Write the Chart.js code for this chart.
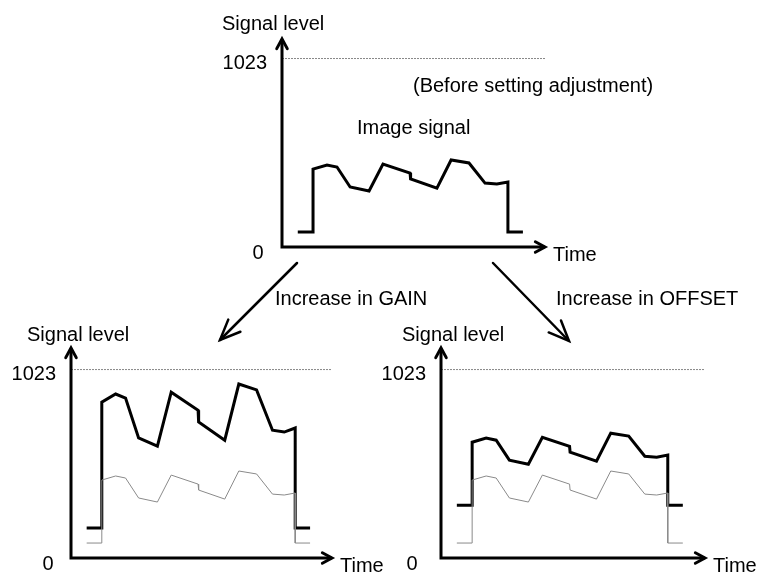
<!DOCTYPE html>
<html>
<head>
<meta charset="utf-8">
<script src="https://cdn.jsdelivr.net/npm/chart.js@4"></script>
<style>
  body { margin: 0; background: #fff; }
  #wrap { position: relative; width: 763px; height: 573px; }
  #wrap canvas { position: absolute; left: 0; top: 0; }
</style>
</head>
<body>
<div id="wrap">
  <canvas id="top" width="763" height="573"></canvas>
  <canvas id="gain" width="763" height="573"></canvas>
  <canvas id="offset" width="763" height="573"></canvas>
</div>
<script>
// time positions along the axis (0..100) and signal levels (0..1023)
var timePts       = [6, 11.8, 11.8, 17.1, 20.9, 25.9, 33.1, 38.4, 48.7, 48.9, 58.9, 64.3, 71.1, 77.2, 81.7, 85.9, 85.9, 91.6];
var originalLevel = [81, 81, 422, 444, 433, 325, 303, 449, 400, 368, 319, 471, 455, 346, 341, 352, 81, 81];
var gainLevel     = [162, 162, 844, 888, 866, 650, 606, 898, 800, 736, 638, 942, 910, 692, 682, 704, 162, 162];
var offsetLevel   = [286, 286, 627, 649, 638, 530, 508, 654, 605, 573, 524, 676, 660, 551, 546, 557, 286, 286];
var tickLabels    = ['0', '1023'];
var maxLevel = 1023;

var FONT = '20px "Liberation Sans", Arial, sans-serif';

function pts(levels){
    return timePts.map(function(t, i){ return {x: t, y: levels[i]}; });
}

function arrowHead(ctx, x, y, ang, len, spread){
    ctx.beginPath();
    ctx.moveTo(x - len*Math.cos(ang - spread), y - len*Math.sin(ang - spread));
    ctx.lineTo(x, y);
    ctx.lineTo(x - len*Math.cos(ang + spread), y - len*Math.sin(ang + spread));
    ctx.stroke();
}

// axes with arrows, 1023 dotted line and labels
var diagramAxes = {
    id: 'diagramAxes',
    beforeDatasetsDraw: function(chart){
        var ctx = chart.ctx, a = chart.chartArea, y = chart.scales.y;
        var yTop = y.getPixelForValue(maxLevel);
        ctx.save();
        ctx.strokeStyle = '#888';
        ctx.lineWidth = 1;
        ctx.setLineDash([2, 1]);
        ctx.beginPath();
        ctx.moveTo(a.left, yTop + 0.5);
        ctx.lineTo(a.right, yTop + 0.5);
        ctx.stroke();
        ctx.restore();
    },
    afterDraw: function(chart, args, opts){
        var ctx = chart.ctx, a = chart.chartArea, y = chart.scales.y;
        var y0 = y.getPixelForValue(0), yTop = y.getPixelForValue(maxLevel);
        ctx.save();
        ctx.strokeStyle = '#000';
        ctx.lineWidth = 3;
        ctx.lineCap = 'round';
        ctx.lineJoin = 'miter';
        ctx.beginPath();
        ctx.moveTo(a.left, a.top + 1);
        ctx.lineTo(a.left, y0);
        ctx.lineTo(a.right - 1, y0);
        ctx.stroke();
        arrowHead(ctx, a.left, a.top, -Math.PI/2, 11, 0.5);
        arrowHead(ctx, a.right, y0, 0, 11, 0.5);

        ctx.fillStyle = '#000';
        ctx.font = FONT;
        ctx.textBaseline = 'alphabetic';
        ctx.textAlign = 'left';
        ctx.fillText('Signal level', opts.titleX, opts.titleY);
        ctx.fillText('Time', a.right + 8, y0 + 14);
        ctx.textAlign = 'right';
        ctx.fillText(tickLabels[1], a.left - 15, yTop + 11);
        ctx.textAlign = 'center';
        ctx.fillText(tickLabels[0], a.left - opts.zeroDx, y0 + 12);
        ctx.restore();
    }
};

// texts and arrows between the three panels
var diagramNotes = {
    id: 'diagramNotes',
    afterDraw: function(chart){
        var ctx = chart.ctx;
        ctx.save();
        ctx.fillStyle = '#000';
        ctx.font = FONT;
        ctx.textAlign = 'left';
        ctx.fillText('(Before setting adjustment)', 413, 92);
        ctx.fillText('Image signal', 357, 134);
        ctx.fillText('Increase in GAIN', 275, 305);
        ctx.fillText('Increase in OFFSET', 556, 305);
        ctx.strokeStyle = '#000';
        ctx.lineWidth = 2.5;
        ctx.lineCap = 'round';
        ctx.beginPath();
        ctx.moveTo(297, 263); ctx.lineTo(220, 340);
        ctx.moveTo(493, 263); ctx.lineTo(569, 341);
        ctx.stroke();
        arrowHead(ctx, 220, 340, Math.atan2(77, -77), 22, 0.4);
        arrowHead(ctx, 569, 341, Math.atan2(78, 76), 22, 0.4);
        ctx.restore();
    }
};

function makeChart(id, datasets, pad, yMax, axisOpts, extra){
    var plugins = [diagramAxes];
    if (extra) plugins.push(extra);
    return new Chart(document.getElementById(id).getContext('2d'), {
        type: 'line',
        data: { datasets: datasets },
        options: {
            responsive: false,
            animation: false,
            layout: { padding: pad },
            scales: {
                x: { type: 'linear', min: 0, max: 100, display: false },
                y: { min: 0, max: yMax, display: false }
            },
            plugins: {
                legend: { display: false },
                tooltip: { enabled: false },
                diagramAxes: axisOpts
            }
        },
        plugins: plugins
    });
}

function boldLine(levels){
    return { data: pts(levels), borderColor: '#000', borderWidth: 3, pointRadius: 0, tension: 0, fill: false };
}
function thinLine(levels){
    return { data: pts(levels), borderColor: '#8a8a8a', borderWidth: 1, pointRadius: 0, tension: 0, fill: false };
}

makeChart('top', [boldLine(originalLevel)],
    {left: 282, right: 218, top: 39, bottom: 326}, 1126,
    {titleX: 222, titleY: 30, zeroDx: 24}, diagramNotes);

makeChart('gain', [thinLine(originalLevel), boldLine(gainLevel)],
    {left: 71, right: 431, top: 348, bottom: 15}, 1137,
    {titleX: 27, titleY: 341, zeroDx: 23});

makeChart('offset', [thinLine(originalLevel), boldLine(offsetLevel)],
    {left: 441, right: 58, top: 348, bottom: 15}, 1137,
    {titleX: 402, titleY: 341, zeroDx: 29});
</script>
</body>
</html>
